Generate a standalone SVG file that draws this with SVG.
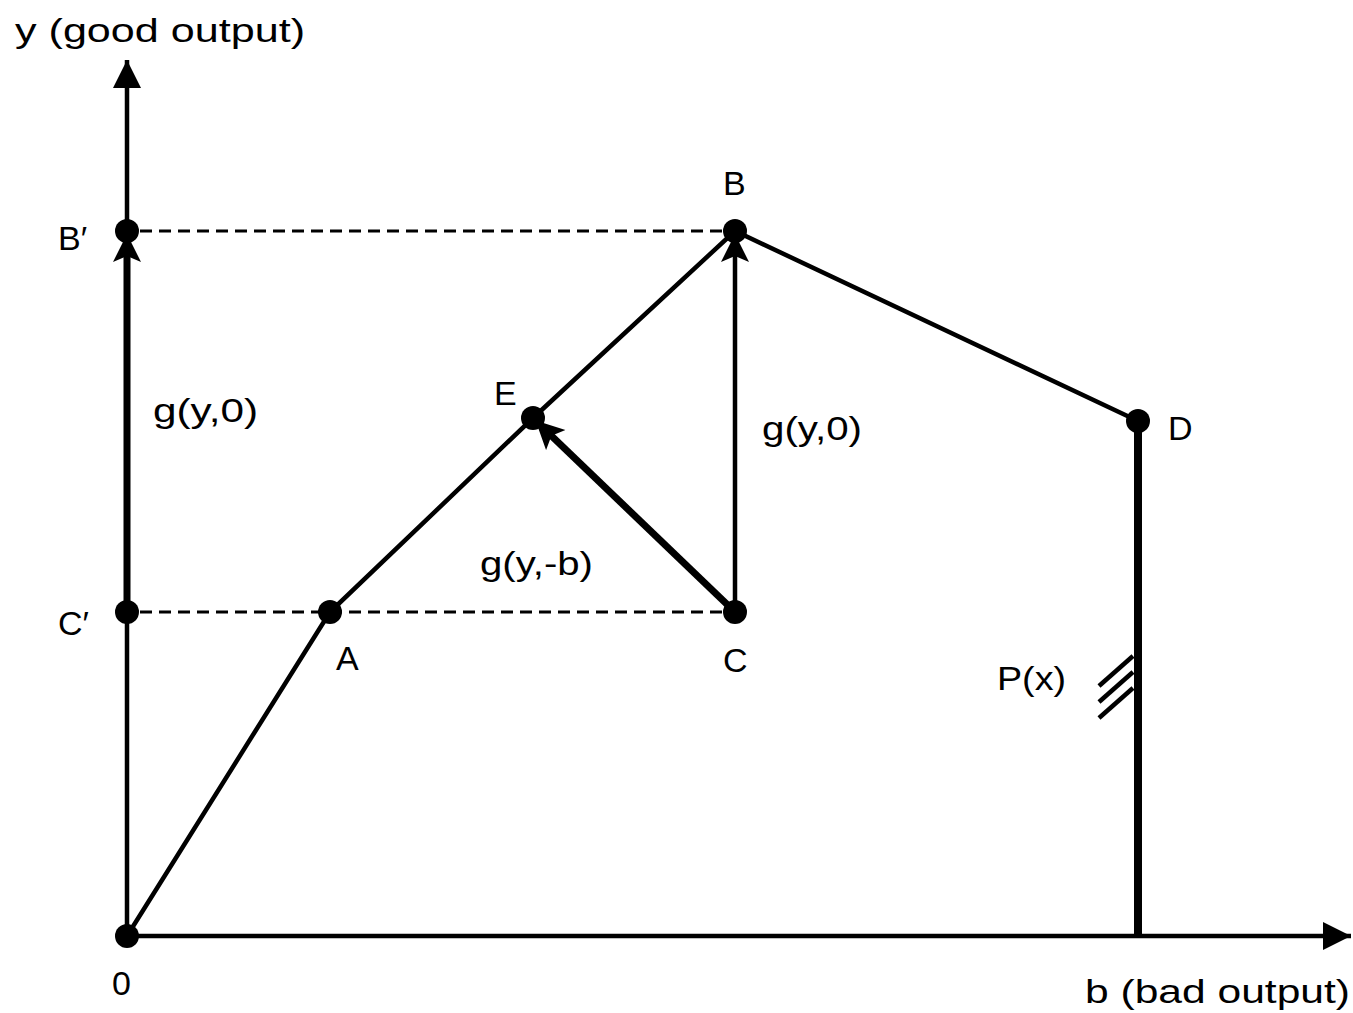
<svg xmlns="http://www.w3.org/2000/svg" width="1353" height="1013" viewBox="0 0 1353 1013">
<style>
text{font-family:"Liberation Sans","DejaVu Sans",sans-serif;font-size:34px;fill:#000}
.thin{stroke:#000;stroke-width:4.5;fill:none}
.thick{stroke:#000;stroke-width:8;fill:none}
.dash{stroke:#000;stroke-width:3;stroke-dasharray:12,7;fill:none}
.dot{fill:#000}
</style>
<defs>
<marker id="ah" markerUnits="userSpaceOnUse" markerWidth="30" markerHeight="30" refX="26" refY="14" orient="auto" viewBox="0 0 30 30">
<path d="M0,0 L28,14 L0,28 L6,14 Z" fill="#000"/>
</marker>
<marker id="ax" markerUnits="userSpaceOnUse" markerWidth="30" markerHeight="30" refX="28" refY="14" orient="auto" viewBox="0 0 30 30">
<path d="M0,0 L28,14 L0,28 Z" fill="#000"/>
</marker>
</defs>
<rect width="1353" height="1013" fill="#fff"/>
<g id="connectors">
<line class="thin" x1="127" y1="936" x2="127" y2="60" marker-end="url(#ax)"/>
<line class="thin" x1="127" y1="936" x2="1351" y2="936" marker-end="url(#ax)"/>
<line class="dash" x1="140" y1="231" x2="722" y2="231"/>
<line class="dash" x1="140" y1="612" x2="722" y2="612"/>
<polyline class="thin" points="127,936 330,612 533,418 735,231 1138,421"/>
<line class="thick" x1="1138" y1="421" x2="1138" y2="936"/>
<line class="thin" x1="1133" y1="656" x2="1099" y2="686"/>
<line class="thin" x1="1133" y1="672" x2="1099" y2="702"/>
<line class="thin" x1="1133" y1="688" x2="1099" y2="718"/>
<line class="thick" x1="127" y1="612" x2="127" y2="236" marker-end="url(#ah)" style="stroke-width:7"/>
<line class="thin" x1="735" y1="612" x2="735" y2="236" marker-end="url(#ah)"/>
<line class="thick" x1="735" y1="612" x2="537" y2="422" marker-end="url(#ah)" style="stroke-width:7"/>
</g>
<g id="node-O"><circle class="dot" cx="127" cy="936" r="12"/><text x="112" y="995">0</text></g>
<g id="node-Bp"><circle class="dot" cx="127" cy="231" r="12"/><text x="58" y="250">B′</text></g>
<g id="node-Cp"><circle class="dot" cx="127" cy="612" r="12"/><text x="58" y="635">C′</text></g>
<g id="node-A"><circle class="dot" cx="330" cy="612" r="12"/><text x="336" y="670">A</text></g>
<g id="node-C"><circle class="dot" cx="735" cy="612" r="12"/><text x="723" y="672">C</text></g>
<g id="node-B"><circle class="dot" cx="735" cy="231" r="12"/><text x="723" y="195">B</text></g>
<g id="node-E"><circle class="dot" cx="533" cy="418" r="12"/><text x="494" y="405">E</text></g>
<g id="node-D"><circle class="dot" cx="1138" cy="421" r="12"/><text x="1168" y="440">D</text></g>
<g id="labels">
<text x="15" y="42" textLength="290" lengthAdjust="spacingAndGlyphs">y (good output)</text>
<text x="153" y="422" textLength="105" lengthAdjust="spacingAndGlyphs">g(y,0)</text>
<text x="762" y="440" textLength="100" lengthAdjust="spacingAndGlyphs">g(y,0)</text>
<text x="480" y="575" textLength="113" lengthAdjust="spacingAndGlyphs">g(y,-b)</text>
<text x="997" y="690" textLength="69" lengthAdjust="spacingAndGlyphs">P(x)</text>
<text x="1085" y="1003" textLength="265" lengthAdjust="spacingAndGlyphs">b (bad output)</text>
</g>
</svg>
